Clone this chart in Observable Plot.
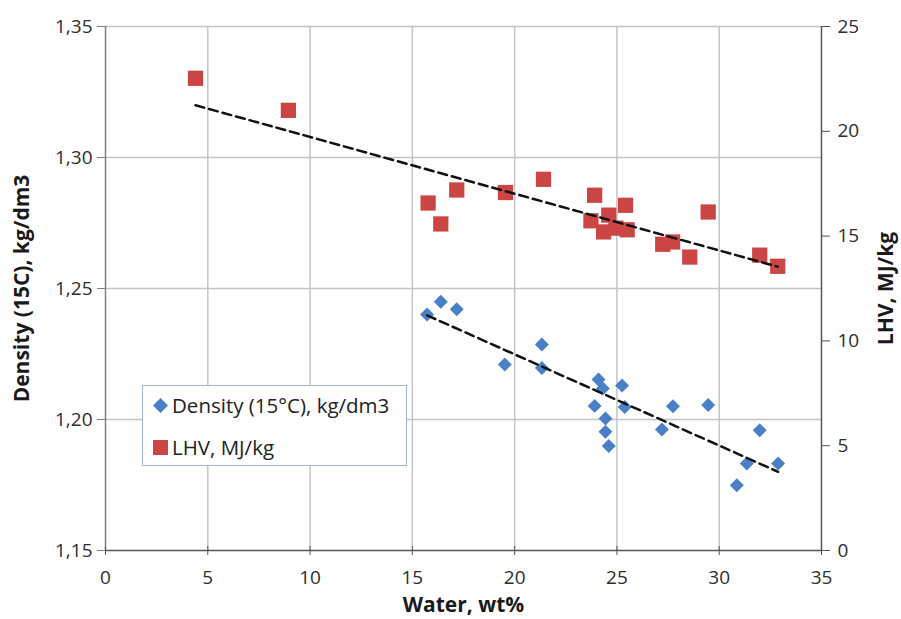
<!DOCTYPE html>
<html>
<head>
<meta charset="utf-8">
<script src="https://cdn.jsdelivr.net/npm/d3@7"></script>
<script src="https://cdn.jsdelivr.net/npm/@observablehq/plot@0.6"></script>
<style>
  html, body { margin: 0; padding: 0; background: #fff; }
  #wrap { position: relative; width: 901px; height: 619px; font-family: "Open Sans", Lato, sans-serif; }
  #legend { position: absolute; left: 142px; top: 385px; width: 265px; height: 81px; box-sizing: border-box;
    border: 1.5px solid #9db8dc; background: #fff; font-size: 20.5px; color: #222; }
  #legend .row { position: absolute; left: 10px; display: flex; align-items: center; gap: 4px; white-space: nowrap; }
</style>
</head>
<body>
<div id="wrap"></div>
<script>
// ---- data ----
const densWater = [15.72, 16.39, 17.17, 19.52, 21.33, 21.33, 24.10, 24.31, 23.91, 25.25, 25.38, 24.44, 24.44, 24.60, 27.20, 27.74, 29.46, 30.86, 31.35, 31.98, 32.88];
const density   = [1.2401, 1.2449, 1.2421, 1.2210, 1.2286, 1.2197, 1.2153, 1.2118, 1.2052, 1.2130, 1.2048, 1.2004, 1.1953, 1.1899, 1.1962, 1.2051, 1.2055, 1.1749, 1.1832, 1.1959, 1.1832];
const lhvWater  = [4.40, 8.94, 15.77, 16.39, 17.17, 19.55, 21.41, 23.91, 23.73, 24.60, 24.35, 24.95, 25.50, 25.42, 27.24, 27.72, 28.56, 29.46, 31.98, 32.86];
const lhv       = [22.53, 21.00, 16.58, 15.58, 17.20, 17.08, 17.71, 16.95, 15.73, 16.00, 15.20, 15.38, 15.30, 16.47, 14.61, 14.72, 14.00, 16.15, 14.09, 13.56];
const xTicks    = [0, 5, 10, 15, 20, 25, 30, 35];
const yTicks    = [1.15, 1.20, 1.25, 1.30, 1.35];
const lhvTicks  = [0, 5, 10, 15, 20, 25];
const seriesNames = ["Density (15°C), kg/dm3", "LHV, MJ/kg"];
const colors = ["#4a80c6", "#cc4545"];

// LHV (0..25) mapped onto density axis (1.15..1.35)
const toD = v => 1.15 + v * (0.20 / 25);
const fromD = d => Math.round((d - 1.15) * 25 / 0.20);

const densData = densWater.map((w, i) => ({w, v: density[i]}));
const lhvData = lhvWater.map((w, i) => ({w, v: toD(lhv[i])}));

const grid = "#c4c4c4";
const axisCol = "#808080";

const chart = Plot.plot({
  width: 901,
  height: 619,
  marginLeft: 105,
  marginRight: 80,
  marginTop: 26,
  marginBottom: 69,
  style: {fontFamily: "'Open Sans', Lato, sans-serif", fontSize: "19px", color: "#2e2e2e", background: "#fff"},
  x: {domain: [0, 35]},
  y: {domain: [1.15, 1.35]},
  marks: [
    Plot.gridX(xTicks.slice(1, -1), {stroke: grid, strokeOpacity: 1, strokeWidth: 1.5}),
    Plot.gridY(yTicks.slice(1), {stroke: grid, strokeOpacity: 1, strokeWidth: 1.5}),
    Plot.ruleX([0], {stroke: axisCol, strokeWidth: 1.5}),
    Plot.ruleX([35], {stroke: "#555", strokeWidth: 1.5}),
    Plot.ruleY([1.15], {stroke: "#555", strokeWidth: 1.5}),
    Plot.axisX({ticks: xTicks, tickSize: 5, tickPadding: 15, stroke: "#555", tickFormat: d => String(d), label: null}),
    Plot.axisX({ticks: xTicks, tickSize: -4, stroke: "#555", tickFormat: () => "", label: null}),
    Plot.axisY({ticks: yTicks, tickSize: 8, tickPadding: 5, stroke: axisCol, tickFormat: d => d.toFixed(2).replace(".", ","), label: null}),
    Plot.axisY({anchor: "right", ticks: lhvTicks.map(toD), tickSize: 8, tickPadding: 8, stroke: "#555", tickFormat: d => String(fromD(d)), label: null}),
    Plot.dot(densData, {x: "w", y: "v", symbol: "diamond2", r: 6.3, fill: colors[0], stroke: "none"}),
    Plot.dot(lhvData, {x: "w", y: "v", symbol: "square", r: 8.6, fill: colors[1], stroke: "none"}),
    Plot.linearRegressionY(lhvData, {x: "w", y: "v", ci: 0, stroke: "#111", strokeWidth: 2.5, strokeDasharray: "9,5"}),
    Plot.linearRegressionY(densData, {x: "w", y: "v", ci: 0, stroke: "#111", strokeWidth: 2.5, strokeDasharray: "9,5"}),
    Plot.text(["Water, wt%"], {frameAnchor: "bottom", dy: 61, fontWeight: "bold", fontSize: 21, fill: "#1a1a1a"}),
    Plot.text(["Density (15C), kg/dm3"], {frameAnchor: "left", textAnchor: "middle", dx: -83, rotate: -90, fontWeight: "bold", fontSize: 21, fill: "#1a1a1a"}),
    Plot.text(["LHV, MJ/kg"], {frameAnchor: "right", textAnchor: "middle", dx: 65, rotate: -90, fontWeight: "bold", fontSize: 21, fill: "#1a1a1a"})
  ]
});
const wrap = document.getElementById("wrap");
wrap.appendChild(chart);

// legend overlay
const legend = document.createElement("div");
legend.id = "legend";
const symbols = [
  `<svg width="15" height="15"><path d="M7.5,0L15,7.5L7.5,15L0,7.5Z" fill="${colors[0]}"/></svg>`,
  `<svg width="15" height="15"><rect x="0" y="0" width="15" height="15" fill="${colors[1]}"/></svg>`
];
const rowTops = [5, 47];
seriesNames.forEach((name, i) => {
  const row = document.createElement("div");
  row.className = "row";
  row.style.top = rowTops[i] + "px";
  row.innerHTML = symbols[i] + `<span>${name}</span>`;
  legend.appendChild(row);
});
wrap.appendChild(legend);
</script>
</body>
</html>
